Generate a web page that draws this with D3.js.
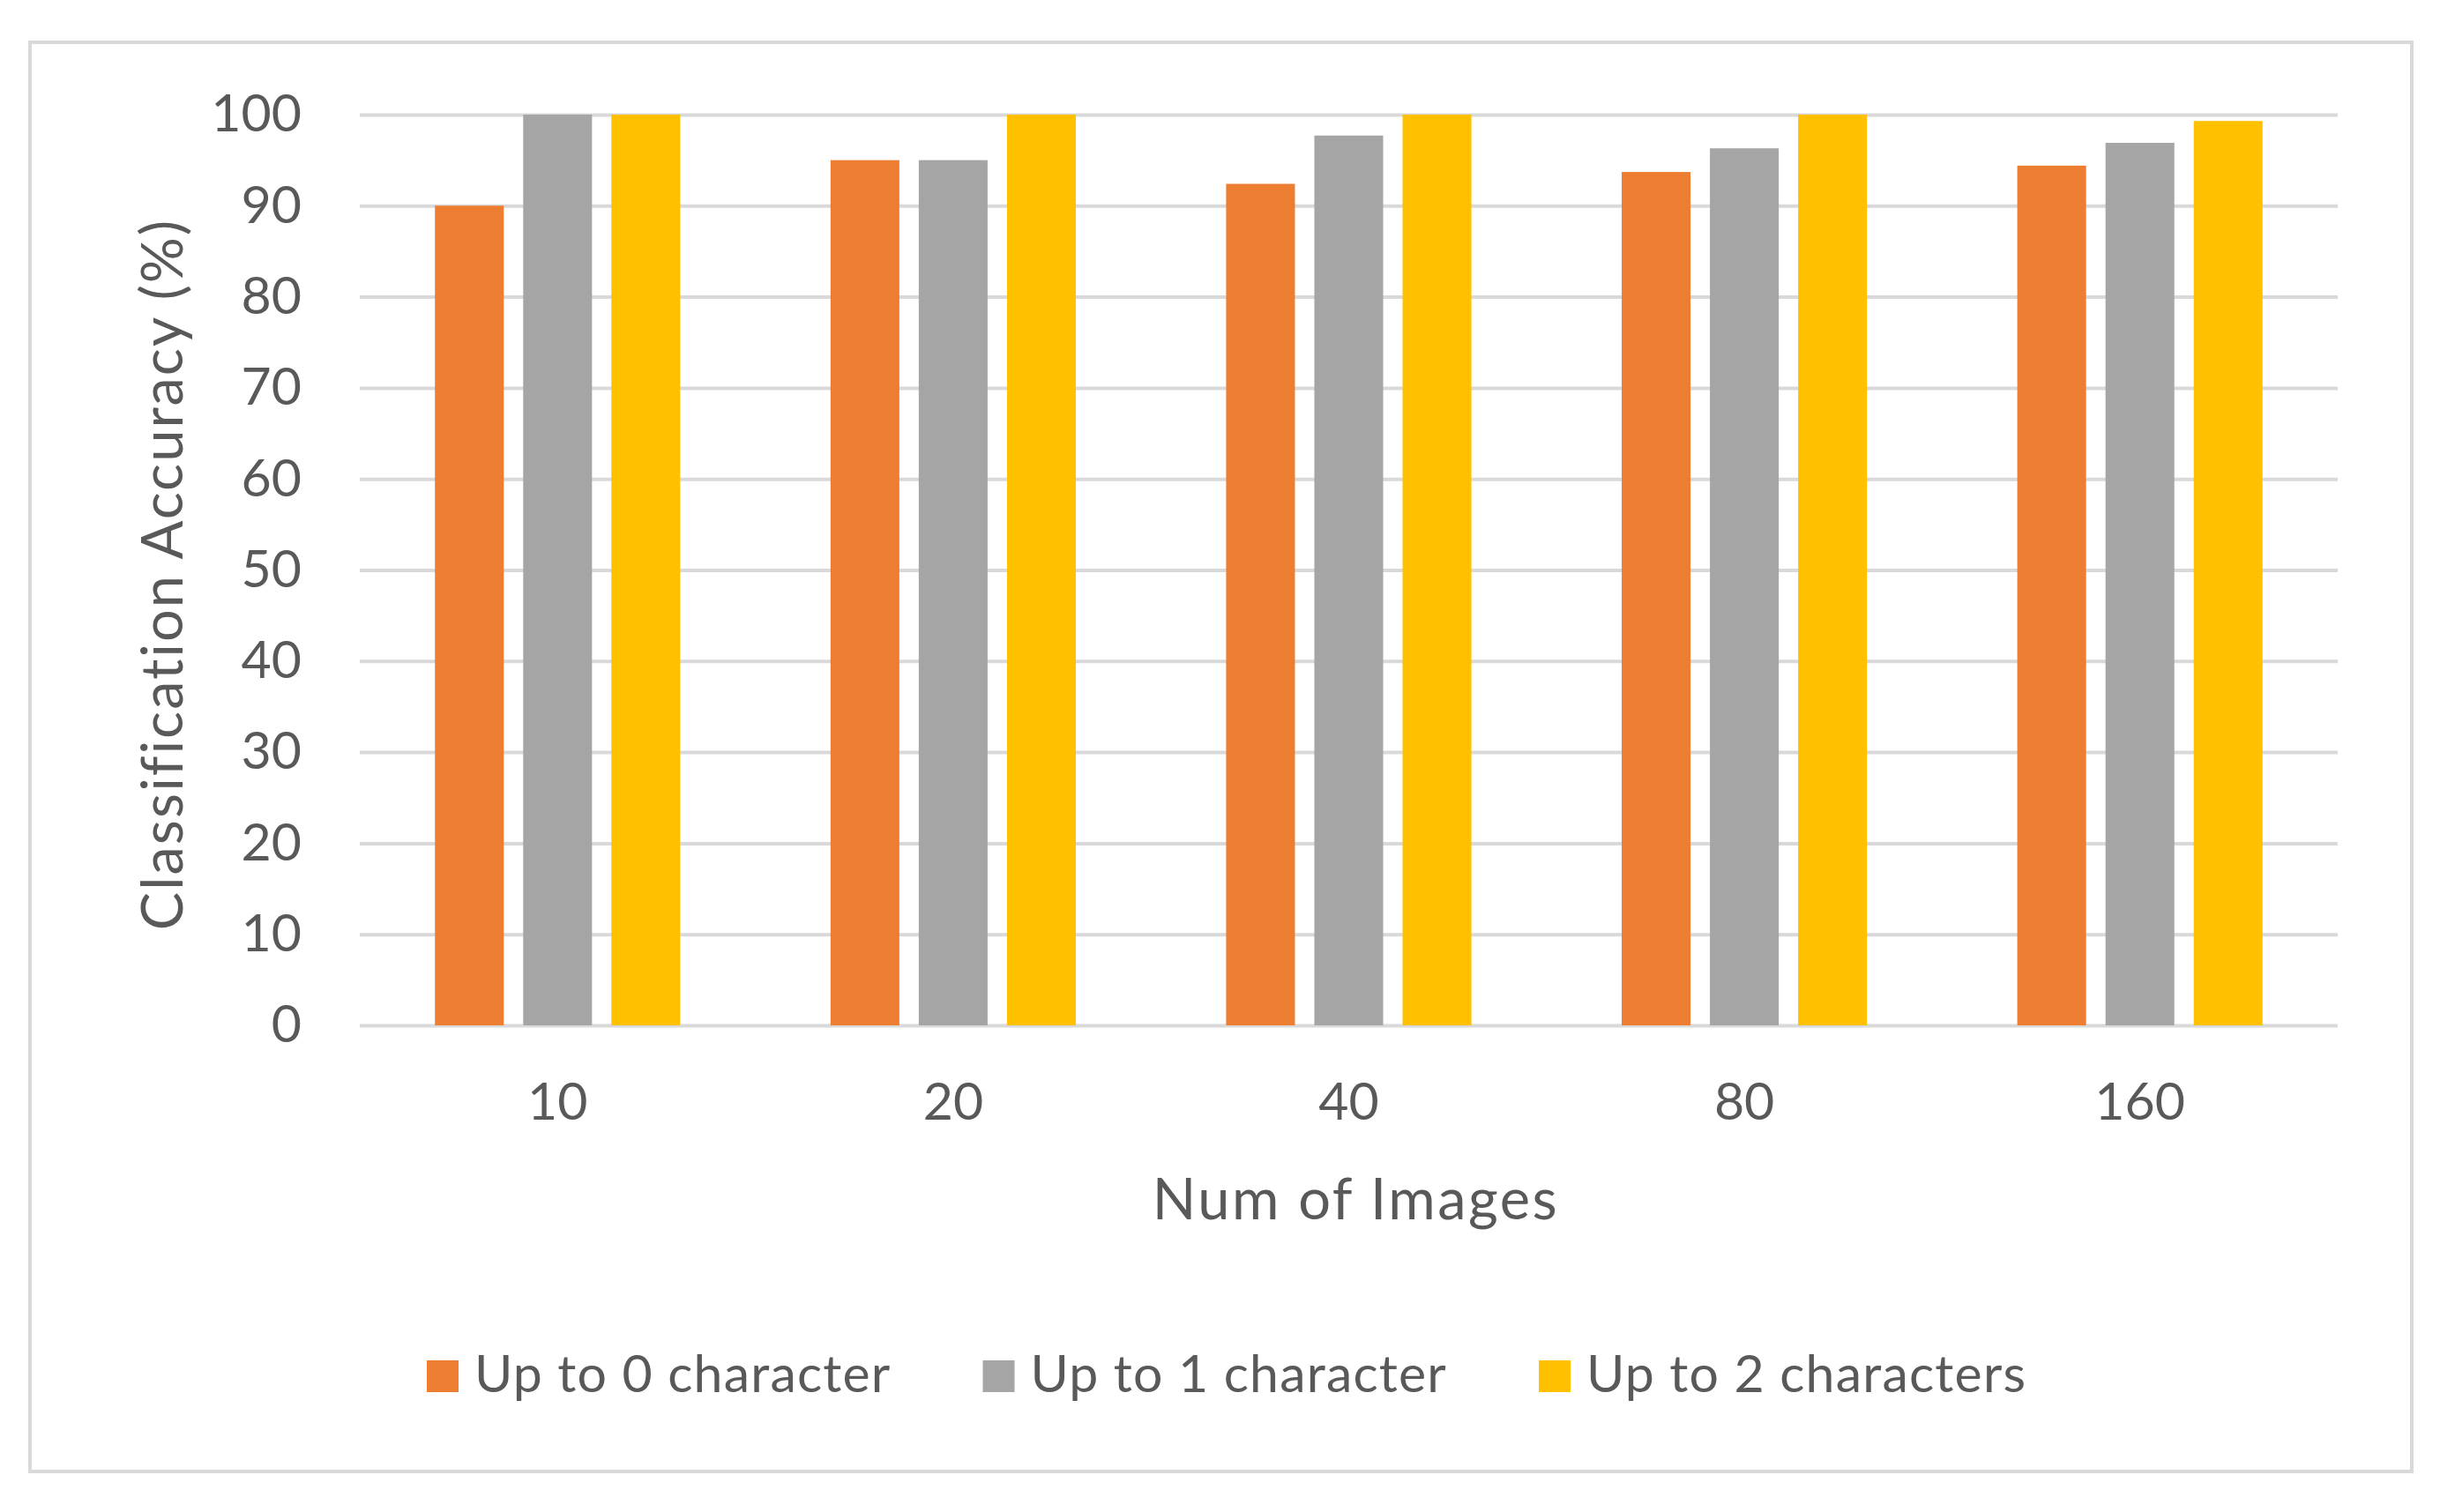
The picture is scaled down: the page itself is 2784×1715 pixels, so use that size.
<!DOCTYPE html>
<html>
<head>
<meta charset="utf-8">
<script src="https://cdn.jsdelivr.net/npm/d3@7"></script>
<style>
  body { margin: 0; background: #fff; }
  svg { display: block; font-family: Lato, 'Open Sans', sans-serif; }
</style>
</head>
<body>
<svg width="2784" height="1715"></svg>
<script>
const categories = ['10', '20', '40', '80', '160'];
const seriesNames = ['Up to 0 character', 'Up to 1 character', 'Up to 2 characters'];
const upTo0 = [90, 95, 92.4, 93.7, 94.4];
const upTo1 = [100, 95, 97.7, 96.3, 96.9];
const upTo2 = [100, 100, 100, 100, 99.3];
const yTicks = [0, 10, 20, 30, 40, 50, 60, 70, 80, 90, 100];
const colors = ['#ED7D31', '#A5A5A5', '#FFC000'];

const svg = d3.select('svg');
const TEXT = '#595959';
const GRID = '#D9D9D9';

// plot area, in page pixels
const PLOT = { LEFT: 408, RIGHT: 2651, TOP: 130, BOTTOM: 1163 };

// outer chart frame
svg.append('rect')
  .attr('x', 34).attr('y', 48)
  .attr('width', 2735 - 34).attr('height', 1669 - 48)
  .attr('fill', '#fff')
  .attr('stroke', GRID)
  .attr('stroke-width', 4);

const table = categories.map((c, i) => ({
  cat: c,
  values: [upTo0[i], upTo1[i], upTo2[i]]
}));

const x0 = d3.scaleBand()
  .domain(categories)
  .range([PLOT.LEFT, PLOT.RIGHT]);

const groupWidth = x0.bandwidth() * 0.62;
const x1 = d3.scaleBand()
  .domain(d3.range(seriesNames.length))
  .range([0, groupWidth])
  .paddingInner(0.22);

const y = d3.scaleLinear().domain([0, 100]).range([PLOT.BOTTOM, PLOT.TOP]);

// gridlines
const grid = svg.append('g')
  .attr('transform', `translate(${PLOT.LEFT},0)`)
  .call(d3.axisLeft(y).tickValues(yTicks).tickSize(-(PLOT.RIGHT - PLOT.LEFT)).tickFormat(''));
grid.select('.domain').remove();
grid.selectAll('line').attr('stroke', GRID).attr('stroke-width', 4);

// bars
const groups = svg.append('g')
  .selectAll('g')
  .data(table)
  .join('g')
  .attr('transform', d => `translate(${x0(d.cat) + (x0.bandwidth() - groupWidth) / 2},0)`);

groups.selectAll('rect')
  .data(d => d.values.map((v, k) => ({ k, v })))
  .join('rect')
  .attr('x', d => x1(d.k))
  .attr('width', x1.bandwidth())
  .attr('y', d => y(d.v))
  .attr('height', d => y(0) - y(d.v))
  .attr('fill', d => colors[d.k]);

// y tick labels
const yAxis = svg.append('g')
  .attr('transform', `translate(342,0)`)
  .call(d3.axisLeft(y).tickValues(yTicks).tickSize(0).tickPadding(0));
yAxis.select('.domain').remove();
yAxis.selectAll('text')
  .attr('fill', TEXT)
  .style('font-size', '59px')
  .style('font-family', 'Lato, sans-serif');

// x tick labels
const xAxis = svg.append('g')
  .attr('transform', `translate(0,${PLOT.BOTTOM})`)
  .call(d3.axisBottom(x0).tickSize(0).tickPadding(0));
xAxis.select('.domain').remove();
xAxis.selectAll('text')
  .attr('fill', TEXT)
  .attr('dy', null)
  .attr('y', 1270 - PLOT.BOTTOM)
  .style('font-size', '59px')
  .style('font-family', 'Lato, sans-serif');

// axis titles
svg.append('text')
  .attr('x', (PLOT.LEFT + PLOT.RIGHT) / 2 + 8)
  .attr('y', 1383)
  .attr('text-anchor', 'middle')
  .attr('fill', TEXT)
  .style('font-size', '65px')
  .style('letter-spacing', '2.5px')
  .text('Num of Images');

svg.append('text')
  .attr('transform', `translate(207,${(PLOT.TOP + PLOT.BOTTOM) / 2 + 5}) rotate(-90)`)
  .attr('text-anchor', 'middle')
  .attr('fill', TEXT)
  .style('font-size', '65px')
  .style('letter-spacing', '2px')
  .text('Classification Accuracy (%)');

// legend
const legend = svg.append('g');
let lx = 484;
seriesNames.forEach((name, k) => {
  legend.append('rect')
    .attr('x', lx).attr('y', 1543)
    .attr('width', 36).attr('height', 36)
    .attr('fill', colors[k]);
  const t = legend.append('text')
    .attr('x', lx + 54).attr('y', 1579)
    .attr('fill', TEXT)
    .style('font-size', '59px')
    .style('letter-spacing', '1.2px')
    .text(name);
  lx += 54 + t.node().getComputedTextLength() + 104;
});
</script>
</body>
</html>
